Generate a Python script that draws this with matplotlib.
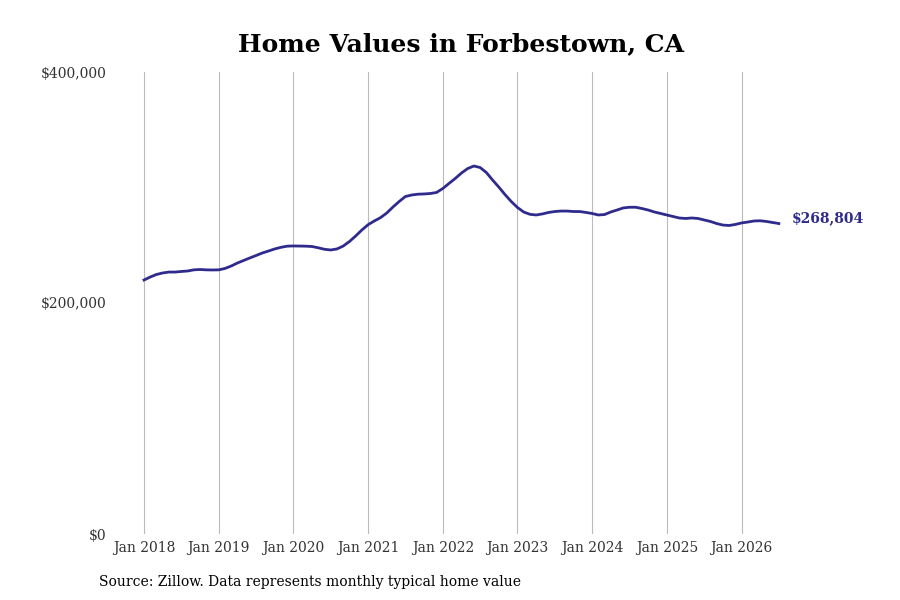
import pandas as pd
import matplotlib.pyplot as plt
from matplotlib.ticker import FuncFormatter

plt.rcParams['font.family'] = 'DejaVu Serif'

# Monthly typical home value, Jan 2018 - Jul 2026
months = pd.date_range('2018-01-01', '2026-07-01', freq='MS')
values = [
    219900, 222500, 224700, 226000, 226800, 226800, 227300, 227700, 228700, 229000, 228700, 228600,
    228700, 229900, 232000, 234600, 236800, 239000, 241100, 243300, 245000, 246800, 248200, 249200,
    249400, 249300, 249200, 248900, 247800, 246500, 245900, 246800, 249300, 253200, 258000, 263200,
    267800, 271000, 273900, 277900, 283100, 287900, 292200, 293500, 294200, 294400, 294800, 295700,
    299100, 303500, 307800, 312500, 316400, 318600, 317300, 313000, 306500, 300400, 293900, 287900,
    282700, 278800, 276800, 276200, 277100, 278400, 279200, 279600, 279600, 279200, 279200, 278400,
    277500, 276200, 276600, 278800, 280500, 282300, 282900, 282900, 281800, 280500, 278800, 277500,
    276200, 274900, 273600, 273200, 273600, 273200, 271900, 270600, 268800, 267500, 267100, 268000,
    269300, 270100, 271000, 271200, 270600, 269700, 268804,
]
tick_years = list(range(2018, 2027))
y_ticks = [0, 200000, 400000]
line_color = '#2e2b8c'

fig = plt.figure(figsize=(9, 6), dpi=100)
ax = fig.add_axes([119 / 900, 0.11, 742 / 900, 0.77])

x = list(range(len(values)))
ax.plot(x, values, color=line_color, linewidth=2.0)

ax.set_xlim(-4.02, 115.2)
ax.set_ylim(0, 400000)

xt = [(y - 2018) * 12 for y in tick_years]
ax.set_xticks(xt)
ax.set_xticklabels([f'Jan {y}' for y in tick_years], fontsize=10, color='#333333')
ax.set_yticks(y_ticks)
ax.yaxis.set_major_formatter(FuncFormatter(lambda v, p: f'${v:,.0f}'))
ax.tick_params(axis='y', labelsize=10, labelcolor='#333333', length=0, pad=9)
ax.tick_params(axis='x', length=0, pad=5)

ax.grid(axis='x', color='#bbbbbb', linewidth=0.8)
for s in ax.spines.values():
    s.set_visible(False)

# End label
ax.annotate(f'${values[-1]:,}', xy=(x[-1], values[-1]), xytext=(9.5, 3.5),
            textcoords='offset points', color=line_color, fontsize=10,
            fontweight='bold', va='center', ha='left')

fig.text(461 / 900, 0.927, 'Home Values in Forbestown, CA', ha='center', va='center',
         fontsize=18, fontweight='bold')
fig.text(99 / 900, 1 - 582 / 600, 'Source: Zillow. Data represents monthly typical home value',
         ha='left', va='center', fontsize=10)

fig.savefig('out.png', dpi=100)
